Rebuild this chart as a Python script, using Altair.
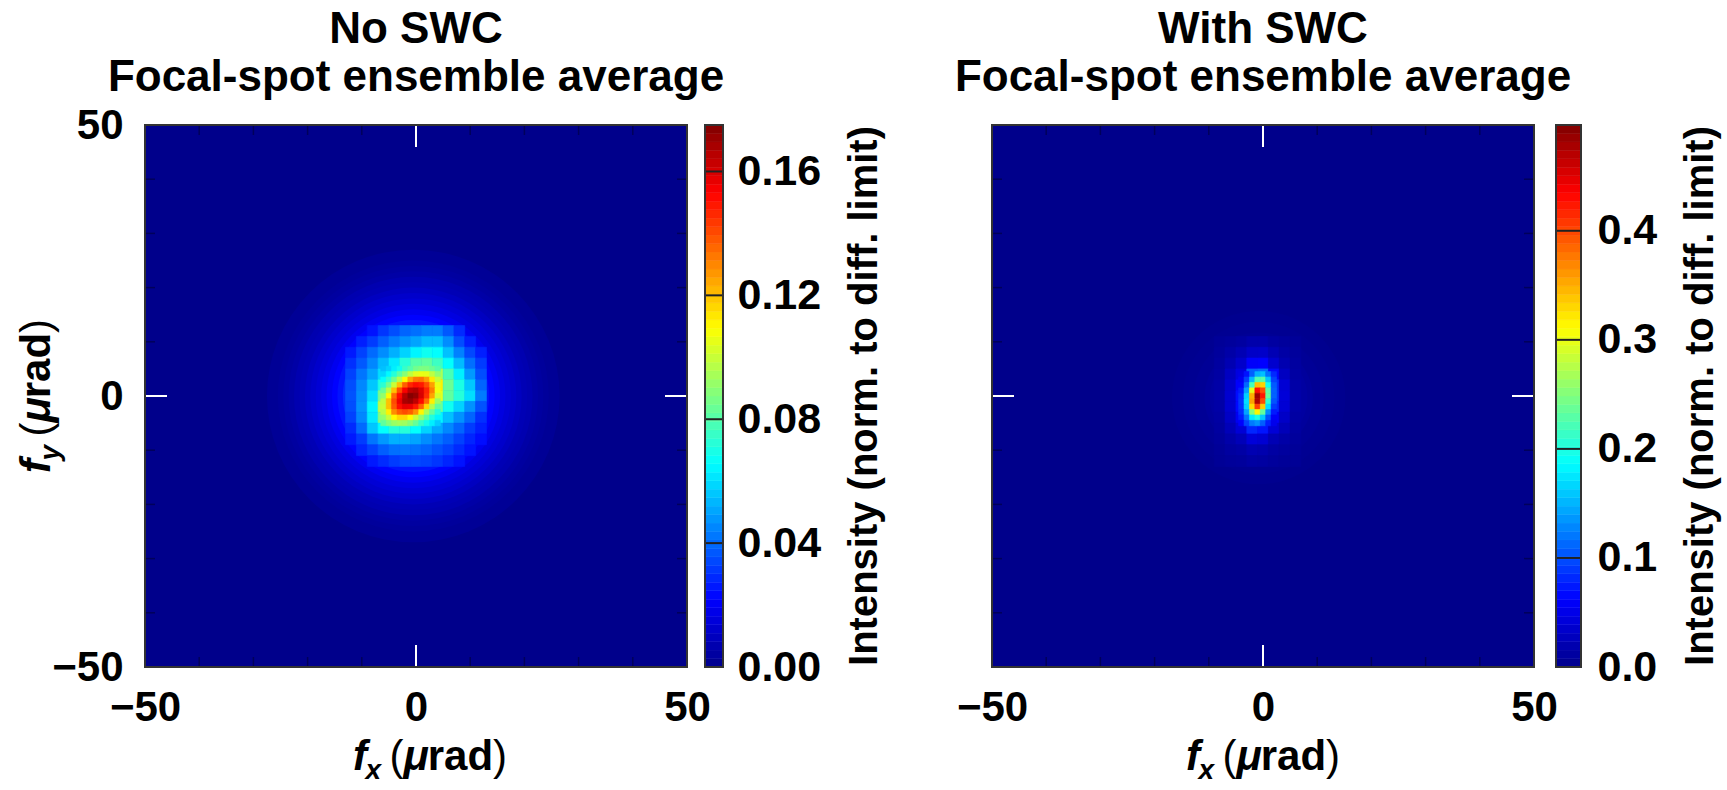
import altair as alt
import pandas as pd

FONT = "Liberation Sans"
PLOT_W = 542
PLOT_H = 542
PANEL_GAP = 305

# Angular extent of both maps (μrad) and tick positions
F_DOMAIN = [-50, 50]
MAJOR_TICKS = [-50, 0, 50]
MINOR_TICKS = [-40, -30, -20, -10, 10, 20, 30, 40]
CENTRE_TICK = [0]

LEFT_TITLE = ["No SWC", "Focal-spot ensemble average"]
RIGHT_TITLE = ["With SWC", "Focal-spot ensemble average"]
CBAR_TITLE = "Intensity (norm. to diff. limit)"

# Colour-bar ranges and tick values
LEFT_CMAX = 0.175
LEFT_CTICKS = [0.0, 0.04, 0.08, 0.12, 0.16]
RIGHT_CMAX = 0.497
RIGHT_CTICKS = [0.0, 0.1, 0.2, 0.3, 0.4]
CBAR_STEPS = 64

# jet colour map anchors (fraction of the colour-bar range)
JET_STOPS = [0.0, 0.125, 0.375, 0.625, 0.875, 1.0]
JET_COLORS = ["#00008b", "#0000ff", "#00ffff", "#ffff00", "#ff0000", "#800000"]

# ---------------------------------------------------------------------------
# No SWC: intensities in units of 1e-3 (norm. to diffraction limit)
# ---------------------------------------------------------------------------
LEFT_CENTRE = [-0.5, 0.0]
# circular halo: outer radius (μrad) and level, from the outside inwards
LEFT_HALO_R = [27, 25, 24, 23, 22, 21, 20, 19, 18, 17, 16, 15, 14, 13]
LEFT_HALO_V = [2, 3, 4, 5, 7, 8, 10, 12, 14, 16, 19, 22, 25, 29]
# 2 μrad cells
LEFT_COARSE_X = [-12, -10, -8, -6, -4, -2, 0, 2, 4, 6, 8, 10, 12]
LEFT_COARSE_Y = [12, 10, 8, 6, 4, 2, 0, -2, -4, -6, -8, -10, -12]
LEFT_COARSE = [
    [None, None, 25, 31, 35, 39, 41, 43, 43, 37, 29, None, None],
    [None, 27, 32, 38, 43, 47, 50, 54, 54, 46, 35, 27, None],
    [26, 33, 40, 46, 52, 58, 64, 68, 66, 55, 44, 34, 27],
    [30, 37, 45, 54, 62, 72, 80, 82, 76, 66, 54, 41, 32],
    [33, 42, 50, 60, 74, 92, 108, 110, 95, 78, 63, 48, 35],
    [35, 45, 56, 70, 98, 130, 150, 145, 112, 84, 70, 56, 39],
    [36, 46, 60, 86, 125, 162, 172, 152, 105, 82, 72, 60, 43],
    [35, 47, 64, 98, 136, 156, 148, 116, 84, 68, 58, 47, 36],
    [33, 45, 62, 88, 108, 112, 98, 80, 64, 55, 47, 39, 30],
    [29, 40, 56, 66, 72, 72, 66, 58, 51, 45, 39, 32, 27],
    [26, 32, 42, 48, 52, 52, 50, 46, 42, 38, 33, 28, 24],
    [None, 28, 33, 38, 41, 42, 41, 39, 36, 33, 29, 25, None],
    [None, None, 26, 29, 32, 34, 34, 33, 31, 28, 25, None, None],
]
# 1 μrad cells over the bright core
LEFT_FINE_X = [-6, -5, -4, -3, -2, -1, 0, 1, 2, 3, 4]
LEFT_FINE_Y = [5, 4, 3, 2, 1, 0, -1, -2, -3, -4, -5]
LEFT_FINE = [
    [55, 58, 63, 68, 75, 80, 85, 87, 87, 84, 80],
    [59, 65, 72, 81, 89, 98, 104, 106, 105, 98, 90],
    [66, 74, 85, 97, 110, 124, 132, 133, 126, 113, 100],
    [73, 85, 100, 120, 137, 147, 151, 149, 140, 126, 106],
    [83, 98, 120, 140, 154, 164, 166, 159, 147, 131, 107],
    [91, 110, 135, 152, 166, 174, 171, 160, 145, 125, 102],
    [98, 120, 140, 156, 168, 170, 164, 152, 135, 112, 92],
    [100, 120, 138, 151, 157, 156, 149, 136, 116, 96, 82],
    [97, 112, 129, 137, 140, 137, 128, 111, 95, 83, 72],
    [90, 99, 110, 116, 116, 110, 100, 91, 81, 71, 64],
    [82, 88, 92, 94, 93, 89, 83, 75, 69, 63, 57],
]

# ---------------------------------------------------------------------------
# With SWC: intensities in units of 1e-3
# ---------------------------------------------------------------------------
RIGHT_CENTRE = [-0.8, -0.3]
RIGHT_HALO_R = [16, 14, 12, 10, 9]
RIGHT_HALO_V = [2, 4, 6, 9, 12]
RIGHT_COARSE_X = [-8, -6, -4, -2, 0, 2, 4, 6]
RIGHT_COARSE_Y = [10, 8, 6, 4, 2, 0, -2, -4, -6, -8, -10, -12]
RIGHT_COARSE = [
    [7, 9, 12, 17, 17, 12, 9, 7],
    [9, 15, 22, 32, 33, 22, 14, 9],
    [11, 21, 34, 60, 62, 36, 20, 11],
    [13, 29, 45, 110, 115, 65, 29, 13],
    [15, 35, 60, 220, 230, 85, 39, 15],
    [16, 37, 68, 300, 330, 88, 41, 16],
    [15, 36, 66, 280, 250, 80, 39, 15],
    [13, 31, 55, 170, 150, 60, 32, 13],
    [11, 24, 40, 80, 72, 40, 24, 11],
    [9, 16, 24, 42, 38, 22, 15, 9],
    [7, 11, 14, 21, 19, 13, 10, 7],
    [6, 8, 9, 13, 12, 9, 7, 6],
]
RIGHT_FINE_X = [-4, -3, -2, -1, 0, 1, 2]
RIGHT_FINE_Y = [4, 3, 2, 1, 0, -1, -2, -3, -4, -5]
RIGHT_FINE = [
    [49, 71, 109, 149, 156, 117, 82],
    [56, 92, 153, 226, 230, 158, 95],
    [63, 114, 220, 342, 332, 194, 106],
    [76, 140, 298, 428, 396, 228, 110],
    [84, 164, 349, 482, 424, 235, 110],
    [88, 172, 357, 475, 398, 208, 103],
    [87, 165, 328, 405, 335, 172, 90],
    [83, 143, 250, 315, 235, 130, 75],
    [74, 117, 178, 200, 160, 101, 59],
    [61, 95, 122, 133, 108, 77, 52],
]


def cell_table(xs, ys, rows, step):
    recs = []
    for y, row in zip(ys, rows):
        for x, m in zip(xs, row):
            if m is None:
                continue
            recs.append({"x1": x - step / 2, "x2": x + step / 2,
                         "y1": y - step / 2, "y2": y + step / 2, "v": m / 1000})
    return pd.DataFrame(recs)


def text_layer(text, x, y, size, weight="bold", style="normal", angle=0,
               align="left", baseline="alphabetic"):
    return alt.Chart(pd.DataFrame({"t": [text]})).mark_text(
        font=FONT, fontSize=size, fontWeight=weight, fontStyle=style,
        angle=angle, align=align, baseline=baseline, color="black",
    ).encode(text="t:N", x=alt.value(x), y=alt.value(y))


def axis_title_layers(sub, vertical, shift):
    big, small = 42, 28
    pieces = [
        ("f", big, "bold", "italic", 0.30 * big, 0),
        (sub, small, "bold", "italic", 0.556 * small + 0.2 * big, 9),
        ("(", big, "normal", "normal", 0.333 * big, 0),
        ("\u03bc", big, "bold", "italic", 0.576 * big, 0),
        ("rad", big, "bold", "normal", 1.556 * big, 0),
        (")", big, "normal", "normal", 0.333 * big, 0),
    ]
    total = sum(p[4] for p in pieces)
    layers = []
    pos = 0.0
    for txt, size, weight, style, adv, drop in pieces:
        if vertical:
            layers.append(text_layer(txt, -95 + drop, PLOT_H / 2 + total / 2 - pos - shift,
                                     size, weight, style, angle=270))
        else:
            layers.append(text_layer(txt, PLOT_W / 2 - total / 2 + pos + shift, 645 + drop,
                                     size, weight, style))
        pos += adv
    return layers


def panel(title, centre, halo_r, halo_v, coarse, fine, cmax, cticks, cfmt,
          show_y, cb_x0, cb_x1, cb_pad, cb_title_x, xlabel_shift, left_extent, right_extent):
    W, H = PLOT_W, PLOT_H
    fx = alt.Scale(domain=F_DOMAIN, nice=False, zero=False)
    fy = alt.Scale(domain=F_DOMAIN, nice=False, zero=False)
    cscale = alt.Scale(domain=[s * cmax for s in JET_STOPS], range=JET_COLORS,
                       interpolate="rgb", clamp=True)
    color = alt.Color("v:Q", scale=cscale, legend=None)
    stroke = alt.Stroke("v:Q", scale=cscale, legend=None)

    label_style = dict(labelFont=FONT, labelFontWeight="bold", labelColor="black",
                       ticks=False, domain=False, grid=False, labelFlush=False,
                       labelOverlap=False, title=None)
    x_axis = alt.Axis(values=MAJOR_TICKS, labelFontSize=42, labelPadding=20, **label_style)
    y_axis = (alt.Axis(values=MAJOR_TICKS, labelFontSize=42, labelPadding=22, **label_style)
              if show_y else None)

    def fx_enc(field):
        return alt.X(field, scale=fx, axis=x_axis)

    layers = []
    # extent of the whole figure area belonging to this panel
    layers.append(alt.Chart(pd.DataFrame({"t": [0]})).mark_rect(
        opacity=0, fillOpacity=0, strokeOpacity=0).encode(
        x=alt.value(left_extent), x2=alt.value(right_extent),
        y=alt.value(-125), y2=alt.value(H + 123)))

    # halo discs, largest first; a disc of radius r spans 2r μrad on the x scale
    halo_df = pd.DataFrame({"cx": [centre[0]] * len(halo_r), "cy": [centre[1]] * len(halo_r),
                            "r": halo_r, "v": [m / 1000 for m in halo_v]})
    layers.append(alt.Chart(halo_df).mark_circle(opacity=1, strokeWidth=0, clip=True).encode(
        x=fx_enc("cx:Q"),
        y=alt.Y("cy:Q", scale=fy, axis=y_axis),
        size=alt.Size("r:Q", legend=None,
                      scale=alt.Scale(type="pow", exponent=2, domain=[0, 50], zero=True,
                                      range=[0, W * W])),
        color=color))

    for df in (cell_table(*coarse, 2), cell_table(*fine, 1)):
        layers.append(alt.Chart(df).mark_rect(strokeWidth=0.6, opacity=1).encode(
            x=fx_enc("x1:Q"), x2="x2:Q",
            y=alt.Y("y1:Q", scale=fy, axis=None), y2="y2:Q",
            color=color, stroke=stroke))

    # inward ticks on all four sides
    for ticks, length, tcolor, width in ((MINOR_TICKS, 10, "#00005a", 1.5),
                                         (CENTRE_TICK, 22, "white", 2)):
        tdf = pd.DataFrame({"p": ticks})
        rule = alt.Chart(tdf).mark_rule(color=tcolor, strokeWidth=width)
        layers += [
            rule.encode(x=fx_enc("p:Q"), y=alt.value(0), y2=alt.value(length)),
            rule.encode(x=fx_enc("p:Q"), y=alt.value(H - length), y2=alt.value(H)),
            rule.encode(y=alt.Y("p:Q", scale=fy, axis=None), x=alt.value(0), x2=alt.value(length)),
            rule.encode(y=alt.Y("p:Q", scale=fy, axis=None), x=alt.value(W - length), x2=alt.value(W)),
        ]

    one = pd.DataFrame({"t": [0]})
    layers.append(alt.Chart(one).mark_rect(filled=False, stroke="#333333", strokeWidth=2).encode(
        x=alt.value(0), x2=alt.value(W), y=alt.value(0), y2=alt.value(H)))

    # colour bar
    cb0, cb1 = W + cb_x0, W + cb_x1
    cbs = alt.Scale(domain=[0, cmax], nice=False, zero=False)
    cb_axis = alt.Axis(orient="right", offset=cb_x1, values=cticks, format=cfmt,
                       labelFontSize=43, labelPadding=cb_pad, labelAlign="left",
                       labelBaseline="middle", **label_style)
    steps = pd.DataFrame({"k": list(range(CBAR_STEPS))})
    layers.append(alt.Chart(steps).transform_calculate(
        lo=f"datum.k * {cmax} / {CBAR_STEPS}",
        hi=f"(datum.k + 1) * {cmax} / {CBAR_STEPS}",
        v=f"(datum.k + 0.5) * {cmax} / {CBAR_STEPS}",
    ).mark_rect(strokeWidth=0.5, opacity=1).encode(
        x=alt.value(cb0), x2=alt.value(cb1),
        y=alt.Y("lo:Q", scale=cbs, axis=cb_axis), y2="hi:Q",
        color=color, stroke=stroke))
    layers.append(alt.Chart(pd.DataFrame({"t": cticks[1:]})).mark_rule(
        color="#222222", strokeWidth=2).encode(
        y=alt.Y("t:Q", scale=cbs, axis=None), x=alt.value(cb0), x2=alt.value(cb1)))
    layers.append(alt.Chart(one).mark_rect(filled=False, stroke="#333333", strokeWidth=2).encode(
        x=alt.value(cb0), x2=alt.value(cb1), y=alt.value(0), y2=alt.value(H)))
    layers.append(text_layer(CBAR_TITLE, cb_title_x, H / 2, 40, angle=270,
                             align="center", baseline="middle"))

    # titles and axis labels
    layers.append(text_layer(title[0], W / 2, -82, 44, align="center"))
    layers.append(text_layer(title[1], W / 2, -34, 44, align="center"))
    layers += axis_title_layers("x", False, xlabel_shift)
    if show_y:
        layers += axis_title_layers("y", True, 0)

    return alt.layer(*layers).resolve_scale(y="independent").properties(width=W, height=H)


left = panel(LEFT_TITLE, LEFT_CENTRE, LEFT_HALO_R, LEFT_HALO_V,
             (LEFT_COARSE_X, LEFT_COARSE_Y, LEFT_COARSE),
             (LEFT_FINE_X, LEFT_FINE_Y, LEFT_FINE),
             LEFT_CMAX, LEFT_CTICKS, ".2f", True, 18, 36, 14, 720, 14, -145, PLOT_W)
right = panel(RIGHT_TITLE, RIGHT_CENTRE, RIGHT_HALO_R, RIGHT_HALO_V,
              (RIGHT_COARSE_X, RIGHT_COARSE_Y, RIGHT_COARSE),
              (RIGHT_FINE_X, RIGHT_FINE_Y, RIGHT_FINE),
              RIGHT_CMAX, RIGHT_CTICKS, ".1f", False, 22, 47, 16, 709, 0, 0, PLOT_W + 193)

chart = alt.hconcat(left, right, spacing=PANEL_GAP, bounds="flush").resolve_scale(
    x="independent", y="independent", color="independent", stroke="independent",
    size="independent"
).properties(padding=0, background="white").configure_view(
    stroke=None, fill=JET_COLORS[0]
)

chart.save("out.html", embed_options={"renderer": "svg", "actions": False})
